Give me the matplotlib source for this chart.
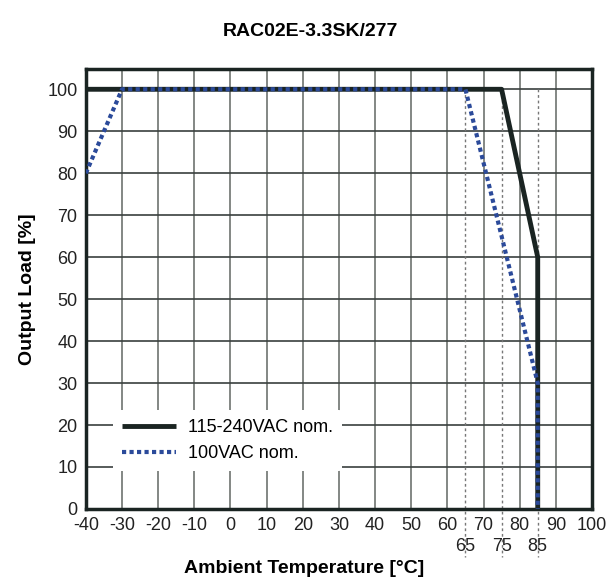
import matplotlib.pyplot as plt

# data
x_main = [-40, 75, 85, 85]
y_main = [100, 100, 60, 0]
x_low = [-40, -30, 65, 85, 85]
y_low = [80, 100, 100, 30, 0]
xticks = list(range(-40, 101, 10))
yticks = list(range(0, 101, 10))
extra_ticks = [65, 75, 85]

plt.rcParams['font.family'] = ['Liberation Sans', 'DejaVu Sans']
plt.rcParams['axes.unicode_minus'] = False

fig = plt.figure(figsize=(6.09, 5.81), dpi=100)
ax = fig.add_axes([0.141, 0.124, 0.831, 0.757])

ax.set_xlim(-40, 100)
ax.set_ylim(0, 104.8)

# grid
for xv in xticks[1:-1]:
    ax.axvline(xv, color='#6e7370', lw=1.2, zorder=1)
for yv in yticks[1:]:
    ax.axhline(yv, color='#3a403e', lw=1.2, zorder=1)

# dashed guide lines going below the axis
for xv in extra_ticks:
    ax.plot([xv, xv], [100, -11.5], color='#777777', lw=1, ls=(0, (2, 2)),
            clip_on=False, zorder=2)

ax.plot(x_main, y_main, color='#1a2422', lw=3.5, solid_capstyle='butt',
        zorder=4, label='115-240VAC nom.')
ax.plot(x_low, y_low, color='#2b4a9a', lw=3, ls=(0, (1, 0.8)),
        zorder=5, label='100VAC nom.')

ax.set_xticks(xticks)
ax.set_yticks(yticks)
ax.tick_params(length=0, labelsize=13, colors='#222222', pad=6)
for xv in extra_ticks:
    ax.text(xv, -7.0, str(xv), ha='center', va='top', fontsize=13, color='#222222')

for s in ax.spines.values():
    s.set_linewidth(2.5)
    s.set_color('#1a2422')

leg = ax.legend(loc='lower left', bbox_to_anchor=(0.035, 0.065), frameon=True,
                fontsize=13, handlelength=3.0, handletextpad=0.7,
                borderpad=0.5, labelspacing=0.5)
leg.get_frame().set_edgecolor('none')
leg.get_frame().set_facecolor('white')
leg.get_frame().set_alpha(1)
leg.set_zorder(6)

fig.text(0.5, 0.022, 'Ambient Temperature [°C]', ha='center', va='center',
         fontsize=14, fontweight='bold')
ax.set_ylabel('Output Load [%]', fontsize=14, fontweight='bold', labelpad=8)
fig.text(0.51, 0.945, 'RAC02E-3.3SK/277', ha='center', va='center',
         fontsize=14, fontweight='bold')

fig.savefig('out.png', dpi=100)
